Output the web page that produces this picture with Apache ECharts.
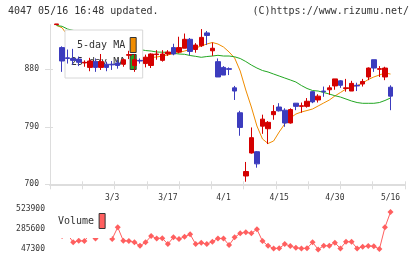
<!DOCTYPE html>
<html><head><meta charset="utf-8">
<script src="https://cdn.jsdelivr.net/npm/echarts@6/dist/echarts.min.js"></script>
<style>html,body{margin:0;padding:0;background:#fff}#c{width:420px;height:259px}</style>
</head><body><div id="c"></div>
<script>
// ---- data ----
const dates = ['2/14','2/17','2/18','2/19','2/20','2/21','2/25','2/26','2/27','2/28',
  '3/3','3/4','3/5','3/6','3/7','3/10','3/11','3/12','3/13','3/14',
  '3/17','3/18','3/19','3/21','3/24','3/25','3/26','3/27','3/28','3/31',
  '4/1','4/2','4/3','4/4','4/7','4/8','4/9','4/10','4/11','4/14',
  '4/15','4/16','4/17','4/18','4/21','4/22','4/23','4/24','4/25','4/28',
  '4/30','5/1','5/2','5/7','5/8','5/9','5/12','5/13','5/14','5/15','5/16'];
const openP  = [950,914,898,897,896,890,883,892,883,888,888,890,888,902,886,894,889,886,903,894,
  904,914,907,913,927,911,917,937,909,892,883,881,851,812,713,749,751,791,787,809,
  821,816,796,827,822,822,845,832,846,848,854,862,850,846,855,857,868,895,880,868,852];
const closeP = [951,893,897,894,891,891,893,883,892,883,887,886,895,903,895,893,899,904,904,904,
  907,904,914,927,908,918,930,933,913,868,871,880,846,789,720,773,732,802,797,814,
  815,796,817,822,823,830,829,838,845,851,865,855,851,858,854,861,882,882,881,882,838];
const lowP   = [950,876,889,887,885,884,877,876,879,877,879,881,884,896,876,889,883,882,895,892,
  901,902,905,913,902,906,915,918,901,868,871,871,832,776,704,748,726,779,763,801,
  814,790,795,816,812,820,827,828,837,840,848,851,845,846,846,853,863,876,868,863,816];
const highP  = [951,916,911,912,900,894,898,897,904,892,893,895,897,909,904,897,903,905,910,910,
  910,920,931,936,929,921,943,940,922,897,885,883,854,815,735,789,752,809,799,824,
  827,819,819,827,828,835,846,841,853,855,865,863,865,862,859,865,883,895,885,884,855];
const ma5  = [949,945,933,919,906,893,893,891,890,888,887,887,888,891,893,896,898.5,898.5,899.3,900.8,
  902.4,904.7,906.3,908.6,911,913.4,916.5,919.6,922,919.6,914.9,907.1,897.7,877.3,847.6,821,791.3,770.9,763.9,767.8,
  781.9,794.4,803.8,810,813.2,815.5,817.9,822.6,827.3,831.9,838.2,843.7,849.2,852.3,854.6,858.6,864,868,871.1,874.2,872.6];
const ma25 = [948.5,947.3,943,941,938.5,936,933,931,928,926,923,921,918,916,913,911,909.4,908.6,907.1,906.8,
  906.6,905,904,903.5,901.6,900.3,898.8,900,900.8,901.9,900.8,900.8,899.6,896.9,892.2,886.7,882,878.1,875.8,872.6,
  869.5,866.4,863.3,860.1,854.6,850,846.8,846,843.7,841.3,838.7,836.6,833.5,830.4,828,826.8,826.8,826.8,828,831.2,835.1];
const volume = [235000,205000,225000,131000,150000,146000,230000,176000,262000,240000,
  172000,309000,150000,147000,131000,90000,131000,206000,178000,180000,
  110000,190000,170000,197000,226000,110000,126000,111000,138000,178000,
  176000,98000,190000,238000,250000,238000,286000,146000,90000,59000,
  60000,110000,87000,66000,59000,60000,131000,47300,90000,91000,
  126000,59000,138000,138000,59000,78000,87000,86000,51000,309000,490000];
const xLabels = ['3/3','3/17','4/1','4/15','4/30','5/16'];
const priceTicks = [700,790,880];
const volumeTicks = [47300,285600,523900];

// ---- style ----
const MONO = 'DejaVu Sans Mono';
const RED = '#d40000', BLUE = '#3c3cbe', ORANGE = '#f08c00', GREEN = '#22a722', VOL = '#ff5f5f';
const X_MIN = -1.17, X_MAX = 62.6;
const lblStyle = {fontFamily: MONO, fontSize: 8, color: '#333'};
const labelIdx = xLabels.map(d => dates.indexOf(d));

const chart = echarts.init(document.getElementById('c'));
chart.setOption({
  animation: false,
  backgroundColor: '#fff',
  title: [
    {text: '4047 05/16 16:48 updated.', left: 8, top: 6, padding: 0,
     textStyle: {fontFamily: MONO, fontSize: 10, fontWeight: 'normal', color: '#333'}},
    {text: '(C)https://www.rizumu.net/', right: 11, top: 6, padding: 0,
     textStyle: {fontFamily: MONO, fontSize: 10, fontWeight: 'normal', color: '#333'}}
  ],
  legend: [
    {data: ['5-day MA', '25-day MA'], orient: 'vertical', align: 'right', left: 65, top: 30,
     padding: [7, 6, 8, 6], itemGap: 1, itemWidth: 6, itemHeight: 15, icon: 'rect',
     backgroundColor: '#fff', borderColor: '#d8d8d8', borderWidth: 1, z: 3, selectedMode: false,
     textStyle: {fontFamily: MONO, fontSize: 10, color: '#333'},
     itemStyle: {borderColor: '#333', borderWidth: 1}},
    {data: ['Volume'], orient: 'horizontal', align: 'right', left: 52, top: 205,
     padding: [8, 6, 9, 6], itemWidth: 6, itemHeight: 15, icon: 'rect',
     backgroundColor: '#fff', borderWidth: 0, z: 4, selectedMode: false,
     textStyle: {fontFamily: MONO, fontSize: 10, color: '#333'},
     itemStyle: {borderColor: '#333', borderWidth: 1}}
  ],
  grid: [
    {left: 50, right: 15, top: 24.6, bottom: 74.7, outerBoundsMode: 'none', containLabel: false},
    {left: 50, right: 15, top: 209.2, height: 40.2, outerBoundsMode: 'none', containLabel: false}
  ],
  xAxis: [
    {gridIndex: 0, type: 'value', min: X_MIN, max: X_MAX, position: 'bottom',
     axisLine: {show: false, onZero: false}, axisTick: {show: false}, splitLine: {show: false},
     axisLabel: Object.assign({customValues: labelIdx, margin: 10,
       formatter: v => dates[Math.round(v)]}, lblStyle)},
    {gridIndex: 0, type: 'value', min: 0, max: 11, interval: 1, position: 'bottom',
     axisLine: {show: true, onZero: false, lineStyle: {color: '#ddd', width: 2}},
     axisTick: {show: true, length: 5, lineStyle: {color: '#ddd'}},
     axisLabel: {show: false}, splitLine: {show: false}},
    {gridIndex: 0, type: 'value', min: 0, max: 11, interval: 1, position: 'bottom',
     axisLine: {show: false, onZero: false},
     axisTick: {show: true, inside: true, length: 3, lineStyle: {color: '#ddd'}},
     axisLabel: {show: false}, splitLine: {show: false}},
    {gridIndex: 1, type: 'value', min: X_MIN, max: X_MAX, show: false,
     axisLine: {onZero: false}, splitLine: {show: false}}
  ],
  yAxis: [
    {gridIndex: 0, type: 'value', min: 700, max: 950, position: 'left',
     axisLine: {show: true, onZero: false, lineStyle: {color: '#ddd', width: 1}},
     axisTick: {show: true, length: 5, customValues: priceTicks, lineStyle: {color: '#ddd'}},
     axisLabel: Object.assign({customValues: priceTicks, margin: 11, formatter: v => String(v)}, lblStyle),
     splitLine: {show: false}},
    {gridIndex: 0, type: 'value', min: 700, max: 950, position: 'left',
     axisLine: {show: false, onZero: false},
     axisTick: {show: true, inside: true, length: 3, customValues: priceTicks, lineStyle: {color: '#ddd'}},
     axisLabel: {show: false}, splitLine: {show: false}},
    {gridIndex: 1, type: 'value', min: 47300, max: 523900, position: 'left',
     axisLine: {show: false, onZero: false}, axisTick: {show: false}, splitLine: {show: false},
     axisLabel: Object.assign({customValues: volumeTicks, margin: 5, formatter: v => String(v)}, lblStyle)}
  ],
  series: [
    {type: 'line', name: '5-day MA', xAxisIndex: 0, yAxisIndex: 0, z: 1, symbol: 'none', silent: true,
     data: ma5.map((v, i) => [i, v]), lineStyle: {color: ORANGE, width: 1}, itemStyle: {color: ORANGE}},
    {type: 'line', name: '25-day MA', xAxisIndex: 0, yAxisIndex: 0, z: 1, symbol: 'none', silent: true,
     data: ma25.map((v, i) => [i, v]), lineStyle: {color: GREEN, width: 1}, itemStyle: {color: GREEN}},
    {type: 'candlestick', xAxisIndex: 0, yAxisIndex: 0, z: 5, barWidth: 5,
     encode: {x: 0, y: [1, 2, 3, 4]},
     data: dates.map((d, i) => [i, openP[i], closeP[i], lowP[i], highP[i]]),
     itemStyle: {color: RED, color0: BLUE, borderColor: RED, borderColor0: BLUE, borderWidth: 1}},
    {type: 'line', name: 'Volume', xAxisIndex: 3, yAxisIndex: 2, z: 2, symbol: 'diamond', symbolSize: 6,
     data: volume.map((v, i) => [i, v]), lineStyle: {color: VOL, width: 1}, itemStyle: {color: VOL}}
  ]
});
</script>
</body></html>
